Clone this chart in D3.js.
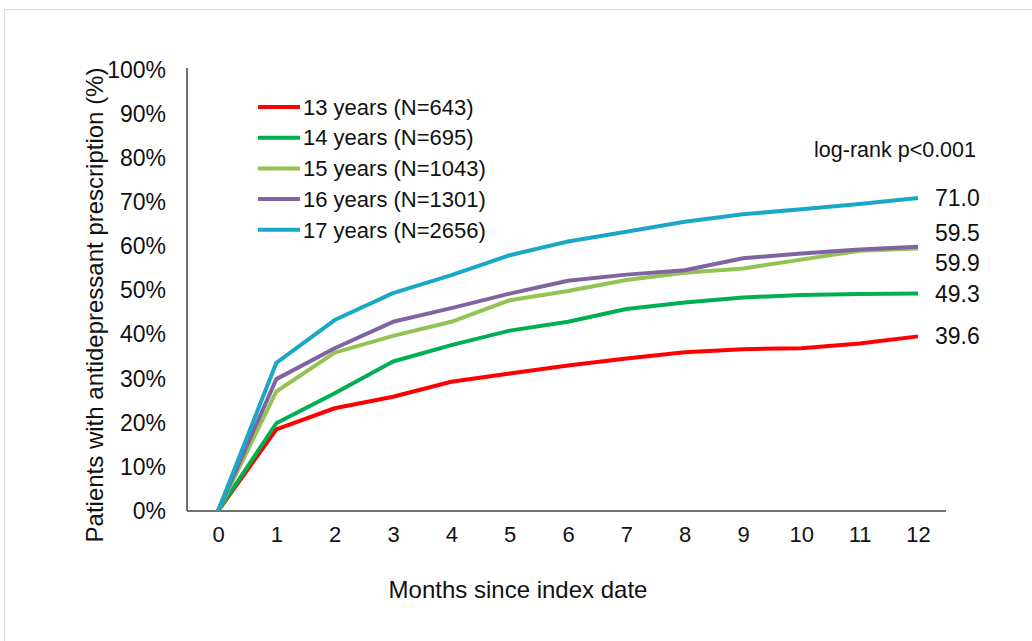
<!DOCTYPE html>
<html><head><meta charset="utf-8">
<script src="https://cdn.jsdelivr.net/npm/d3@7/dist/d3.min.js"></script>
<style>html,body{margin:0;padding:0;background:#fff;} svg{display:block;font-family:Arial,"Liberation Sans",sans-serif;}</style>
</head><body>
<svg id="chart" width="1032" height="641"></svg>
<script>
const months = [0,1,2,3,4,5,6,7,8,9,10,11,12];
const seriesNames = ["13 years (N=643)","14 years (N=695)","15 years (N=1043)","16 years (N=1301)","17 years (N=2656)"];
const colors = ["#ff0000","#00b050","#92c353","#8064a2","#1aa8c6"];
const age13 = [0,18.5,23.3,25.9,29.3,31.2,33.0,34.6,36.0,36.7,36.9,38.0,39.6];
const age14 = [0,19.9,26.7,33.9,37.6,40.9,42.9,45.8,47.3,48.4,49.0,49.2,49.3];
const age15 = [0,27.1,35.9,39.7,42.9,47.8,49.9,52.4,54.0,55.0,57.0,59.0,59.5];
const age16 = [0,29.9,36.9,42.9,46.0,49.3,52.2,53.6,54.6,57.3,58.4,59.3,59.9];
const age17 = [0,33.6,43.3,49.4,53.5,58.0,61.1,63.3,65.6,67.3,68.4,69.6,71.0];
const yTicks = [0,10,20,30,40,50,60,70,80,90,100];
const endLabels = ["39.6","49.3","59.9","59.5","71.0"];
const endLabelOffsets = [0,0,14,-14,0];

const series = [age13,age14,age15,age16,age17];
const svg = d3.select("#chart");

// faint outer frame
svg.append("rect").attr("x",4.5).attr("y",9.5).attr("width",1100).attr("height",700)
  .attr("fill","none").attr("stroke","#dcdcdc").attr("stroke-width",1);

const x = d3.scaleLinear().domain([0,12]).range([218,918]);
const y = d3.scaleLinear().domain([0,100]).range([511,70]);
const plotLeft = 187, plotRight = 946;

// y axis
const yAxis = d3.axisLeft(y).tickValues(yTicks).tickSize(0).tickPadding(21).tickFormat(d=>d+"%");
const gy = svg.append("g").attr("transform",`translate(${plotLeft},0)`).call(yAxis);
gy.select(".domain").remove();
gy.selectAll("text").attr("font-size",23).attr("fill","#111").attr("font-family","Arial, 'Liberation Sans', sans-serif");
svg.append("line").attr("x1",plotLeft).attr("x2",plotLeft).attr("y1",68).attr("y2",y(0))
  .attr("stroke","#404040").attr("stroke-width",1.5);

// x axis
const xAxis = d3.axisBottom(x).tickValues(months).tickSize(0).tickPadding(15).tickFormat(d3.format("d"));
const gx = svg.append("g").attr("transform",`translate(0,${y(0)})`).call(xAxis);
gx.select(".domain").remove();
gx.selectAll("text").attr("font-size",22).attr("fill","#111").attr("font-family","Arial, 'Liberation Sans', sans-serif");
svg.append("line").attr("x1",plotLeft).attr("x2",plotRight).attr("y1",y(0)).attr("y2",y(0))
  .attr("stroke","#404040").attr("stroke-width",1.5);

// lines
const line = d3.line().x((d,i)=>x(months[i])).y(d=>y(d));
series.forEach((s,i)=>{
  svg.append("path").datum(s).attr("d",line).attr("fill","none")
    .attr("stroke",colors[i]).attr("stroke-width",4).attr("stroke-linejoin","round");
});

// end labels
series.forEach((s,i)=>{
  svg.append("text").attr("x",x(12)+17).attr("y",y(s[12])+endLabelOffsets[i])
    .attr("dy","0.35em").attr("font-size",23).attr("fill","#111").text(endLabels[i]);
});

// legend
const lg = svg.append("g");
seriesNames.forEach((n,i)=>{
  const yy = 107 + i*30.7;
  lg.append("line").attr("x1",258).attr("x2",300).attr("y1",yy).attr("y2",yy)
    .attr("stroke",colors[i]).attr("stroke-width",4);
  lg.append("text").attr("x",303).attr("y",yy).attr("dy","0.35em")
    .attr("font-size",22).attr("fill","#111").text(n);
});

// log-rank annotation
svg.append("text").attr("x",976).attr("y",149).attr("dy","0.35em").attr("text-anchor","end")
  .attr("font-size",21.5).attr("fill","#111").text("log-rank p<0.001");

// axis titles
svg.append("text").attr("x",518).attr("y",590).attr("dy","0.35em").attr("text-anchor","middle")
  .attr("font-size",24).attr("fill","#111").text("Months since index date");
svg.append("text").attr("transform","translate(95,305) rotate(-90)").attr("dy","0.35em")
  .attr("text-anchor","middle").attr("font-size",24).attr("fill","#111")
  .text("Patients with antidepressant prescription (%)");
</script>
</body></html>
